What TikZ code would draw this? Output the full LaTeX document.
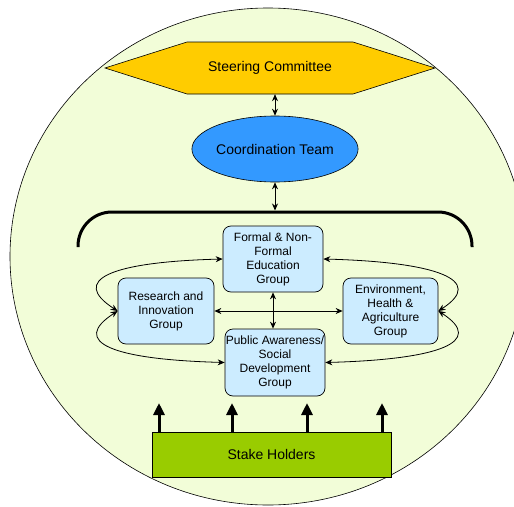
\documentclass[tikz,border=0pt]{standalone}
\usepackage{fontspec}
\setmainfont{Liberation Sans}
\usetikzlibrary{shapes.geometric,arrows.meta,calc}
\definecolor{bgc}{RGB}{242,253,216}
\definecolor{steerc}{RGB}{255,204,0}
\definecolor{coordc}{RGB}{51,153,255}
\definecolor{grpc}{RGB}{204,236,255}
\definecolor{stakec}{RGB}{153,204,0}
\tikzset{
  grp/.style={draw=black, line width=0.7pt, fill=grpc, rounded corners=8pt, inner sep=0pt,
    align=center, font=\fontsize{12}{14}\selectfont},
  thin arrow/.style={line width=0.8pt, {Stealth[length=7pt,width=6pt]}-{Stealth[length=7pt,width=6pt]}},
  big arrow/.style={line width=3pt, -{Triangle[length=12pt,width=11pt]}},
}
\begin{document}
\begin{tikzpicture}[x=1pt,y=-1pt]
\clip (0,0) rectangle (514,506);
% background circle
\draw[fill=bgc, line width=0.6pt] (268,256.5) ellipse [x radius=258, y radius=248.5];
% steering committee hexagon
\draw[fill=steerc, line width=0.6pt] (105,68) -- (187,42) -- (353,42) -- (435,68) -- (353,94) -- (187,94) -- cycle;
\node[minimum width=330pt, minimum height=52pt, inner sep=0pt, font=\fontsize{14}{16}\selectfont] (steer) at (270,68) {Steering Committee};
% coordination team
\node[ellipse, draw=black, line width=0.6pt, fill=coordc, minimum width=150pt, minimum height=66pt, inner sep=0pt,
  font=\fontsize{14}{16}\selectfont] (coord) at (275,149) {Coordination Team};
% bracket
\draw[line width=3pt, rounded corners=34pt] (78,247) -- (78,212) -- (472,212) -- (472,247);
\coordinate (brk) at (275,210.5);
% groups
\node[grp, minimum width=100pt, minimum height=66pt] (form) at (273,259) {Formal \& Non-\\Formal\\Education\\Group};
\node[grp, minimum width=96pt, minimum height=66pt] (res) at (166,311) {Research and\\Innovation\\Group};
\node[grp, minimum width=95pt, minimum height=66pt] (env) at (390.5,311) {Environment,\\Health \&\\Agriculture\\Group};
\node[grp, minimum width=100pt, minimum height=67pt] (pub) at (275,362.5) {Public Awareness/\\Social\\Development\\Group};
% stake holders
\node[draw=black, line width=0.7pt, fill=stakec, minimum width=239pt, minimum height=45pt, inner sep=0pt,
  font=\fontsize{14}{16}\selectfont] (sh) at (271.5,454.5) {Stake Holders};
% connectors
\draw[thin arrow] (steer.south -| coord.north) -- (coord.north);
\draw[thin arrow] (brk) -- (coord.south);
\draw[thin arrow] (form.south) -- (form.south |- pub.north);
\draw[thin arrow] (res.east) -- (env.west);
\draw[thin arrow] (res.west) .. controls +(-48,-31) and +(-113,3) .. (form.west);
\draw[thin arrow] (res.west) .. controls +(-48,31) and +(-113,-3) .. (pub.west);
\draw[thin arrow] (env.east) .. controls +(48,-31) and +(113,3) .. (form.east);
\draw[thin arrow] (env.east) .. controls +(48,31) and +(113,-3) .. (pub.east);
% stake holder arrows
\foreach \i/\x in {1/159,2/232,3/307,4/382}{
  \coordinate (t\i) at (\x,403);
  \draw[big arrow] (sh.north -| t\i) -- (t\i);
}
\end{tikzpicture}
\end{document}
